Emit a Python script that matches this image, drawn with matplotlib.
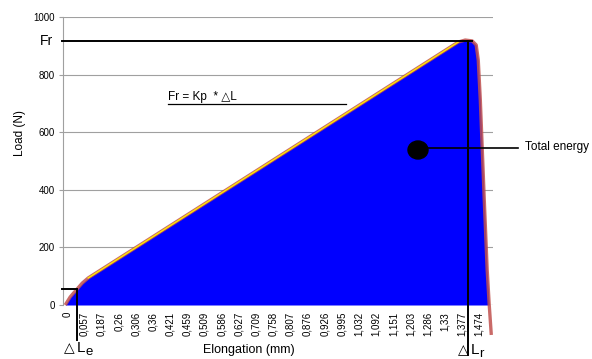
import matplotlib
matplotlib.use("Agg")
import matplotlib.pyplot as plt
import numpy as np
from matplotlib.patches import Ellipse

plt.rcParams['font.family'] = ['Liberation Sans', 'DejaVu Sans']

# Category tick labels (Excel category axis)
categories = ["0", "0,057", "0,187", "0,26", "0,306", "0,36", "0,421", "0,459",
              "0,509", "0,586", "0,627", "0,709", "0,758", "0,807", "0,876",
              "0,926", "0,995", "1,032", "1,092", "1,151", "1,203", "1,286",
              "1,33", "1,377", "1,474"]

# Curve: position in category units, load in N
curve_pos = [-0.12, 0.17, 0.58, 0.87, 1.22, 22.77, 23.18, 23.59, 23.82, 23.94,
             24.06, 24.29, 24.46, 24.58, 24.70]
curve_load = [0, 28, 56, 76, 94, 913, 920, 917, 903, 851, 712, 365, 122, 0, -104]

Fr = 917
Le_pos, Le_load = 0.58, 56
Lr_pos = 23.36

fig = plt.figure(figsize=(5.92, 3.59), dpi=100)
ax = fig.add_axes([0.1064, 0.1504, 0.7264, 0.8022])

cp = np.array(curve_pos)
cl = np.array(curve_load)
ax.fill_between(cp, np.clip(cl, 0, None), 0, color='#0000FF', lw=0, zorder=2)
ax.plot(cp, cl, color='#C0504D', lw=2.4, alpha=0.85, clip_on=False, zorder=3,
        solid_capstyle='butt')
ax.plot(cp[4:6], cl[4:6], color='#FFE800', lw=1.0, zorder=4)

ax.set_xlim(-0.25, 24.8)
ax.set_ylim(0, 1000)
ax.set_yticks(range(0, 1001, 200))
ax.set_yticklabels([str(v) for v in range(0, 1001, 200)], fontsize=7)
ax.set_xticks(range(len(categories)))
ax.set_xticklabels(categories, rotation=90, fontsize=7)
ax.tick_params(axis='x', length=0, pad=5)
ax.tick_params(axis='y', length=3, color='#A0A0A0', pad=3)
ax.grid(axis='y', color='#A0A0A0', lw=0.8, zorder=1)
for s in ['top', 'right', 'bottom']:
    ax.spines[s].set_visible(False)
ax.spines['left'].set_color('#A0A0A0')
ax.axhline(0, color='#A0A0A0', lw=0.8, zorder=1)

# Annotations
ax.plot([-0.3, 23.6], [Fr, Fr], color='black', lw=1.4, clip_on=False, zorder=5)
ax.plot([Lr_pos, Lr_pos], [Fr, -174], color='black', lw=1.4, clip_on=False, zorder=5)
ax.plot([-0.3, Le_pos], [Le_load, Le_load], color='black', lw=1.4, clip_on=False, zorder=5)
ax.plot([Le_pos, Le_pos], [Le_load, -122], color='black', lw=1.4, clip_on=False, zorder=5)

def fx(px):
    return px / 592

def fy(py):
    return 1 - py / 359

fig.text(fx(53), fy(41), "Fr", fontsize=10, ha='right', va='center')
fig.text(fx(20), fy(133), "Load (N)", fontsize=8.5, rotation=90, ha='center', va='center')
fig.text(fx(249), fy(350), "Elongation (mm)", fontsize=9, ha='center', va='center')

# Delta L_e
fig.text(fx(64), fy(348), "\u25b3", fontsize=10, ha='left', va='center', family='DejaVu Sans')
fig.text(fx(77), fy(348), "L", fontsize=11, ha='left', va='center')
fig.text(fx(85), fy(352), "e", fontsize=9.5, ha='left', va='center')
# Delta L_r
fig.text(fx(458), fy(350), "\u25b3", fontsize=10, ha='left', va='center', family='DejaVu Sans')
fig.text(fx(471), fy(350), "L", fontsize=11, ha='left', va='center')
fig.text(fx(479), fy(354), "r", fontsize=9.5, ha='left', va='center')

fig.text(fx(168), fy(97), "Fr = Kp  * \u25b3L", fontsize=8.5, ha='left', va='center')
fig.add_artist(plt.Line2D([fx(168), fx(346)], [fy(104), fy(104)], color='black', lw=0.9))
fig.add_artist(Ellipse((fx(418), fy(150)), 20 / 592, 18 / 359, color='black'))
fig.add_artist(plt.Line2D([fx(425), fx(518)], [fy(148), fy(148)], color='black', lw=1.2))
fig.text(fx(525), fy(147), "Total energy", fontsize=8.5, ha='left', va='center')

fig.savefig("out.png", dpi=100)
